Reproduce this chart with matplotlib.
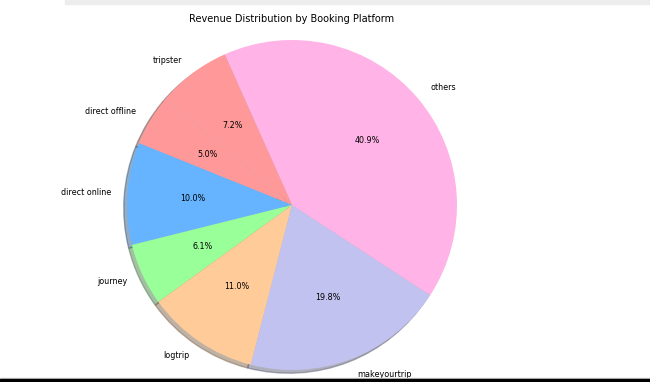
import matplotlib.pyplot as plt
from matplotlib.patches import Rectangle

# revenue share by platform (alphabetical, as from a groupby)
platforms = ["direct offline", "direct online", "journey", "logtrip",
             "makeyourtrip", "others", "tripster"]
revenue_pct = [5.0, 10.0, 6.1, 11.0, 19.8, 40.9, 7.2]
colors = ['#ff9999', '#66b3ff', '#99ff99', '#ffcc99', '#c2c2f0', '#ffb3e6']

W, H = 650, 382
fig = plt.figure(figsize=(W / 100, H / 100), dpi=100)

# pie centre at (292, 205) px, radius 165 px
cx, cy, r = 292, 205, 165
ax = fig.add_axes([0, 0, 1, 1])
ax.pie(revenue_pct, labels=platforms, colors=colors, autopct='%1.1f%%',
       startangle=140, shadow={'ox': -0.014, 'oy': -0.014, 'shade': 0.5},
       textprops={'fontsize': 5.8})
ax.set_aspect('auto')
ax.set_xlim(-cx / r, (W - cx) / r)
ax.set_ylim(-(H - cy) / r, cy / r)
ax.axis('off')

fig.text(292 / W, 1 - 18.5 / H, "Revenue Distribution by Booking Platform",
         ha='center', va='center', fontsize=7)

# screenshot borders
fig.patches.append(Rectangle((65 / W, 1 - 4 / H), 1, 4 / H, transform=fig.transFigure,
                             color='#ededed', zorder=0))
fig.patches.append(Rectangle((0, 3 / H), 1, 1.2 / H, transform=fig.transFigure,
                             color='#d0d0d0', zorder=0))
fig.patches.append(Rectangle((0, 0), 1, 3 / H, transform=fig.transFigure,
                             color='black', zorder=0))

plt.savefig("out.png", dpi=100)
